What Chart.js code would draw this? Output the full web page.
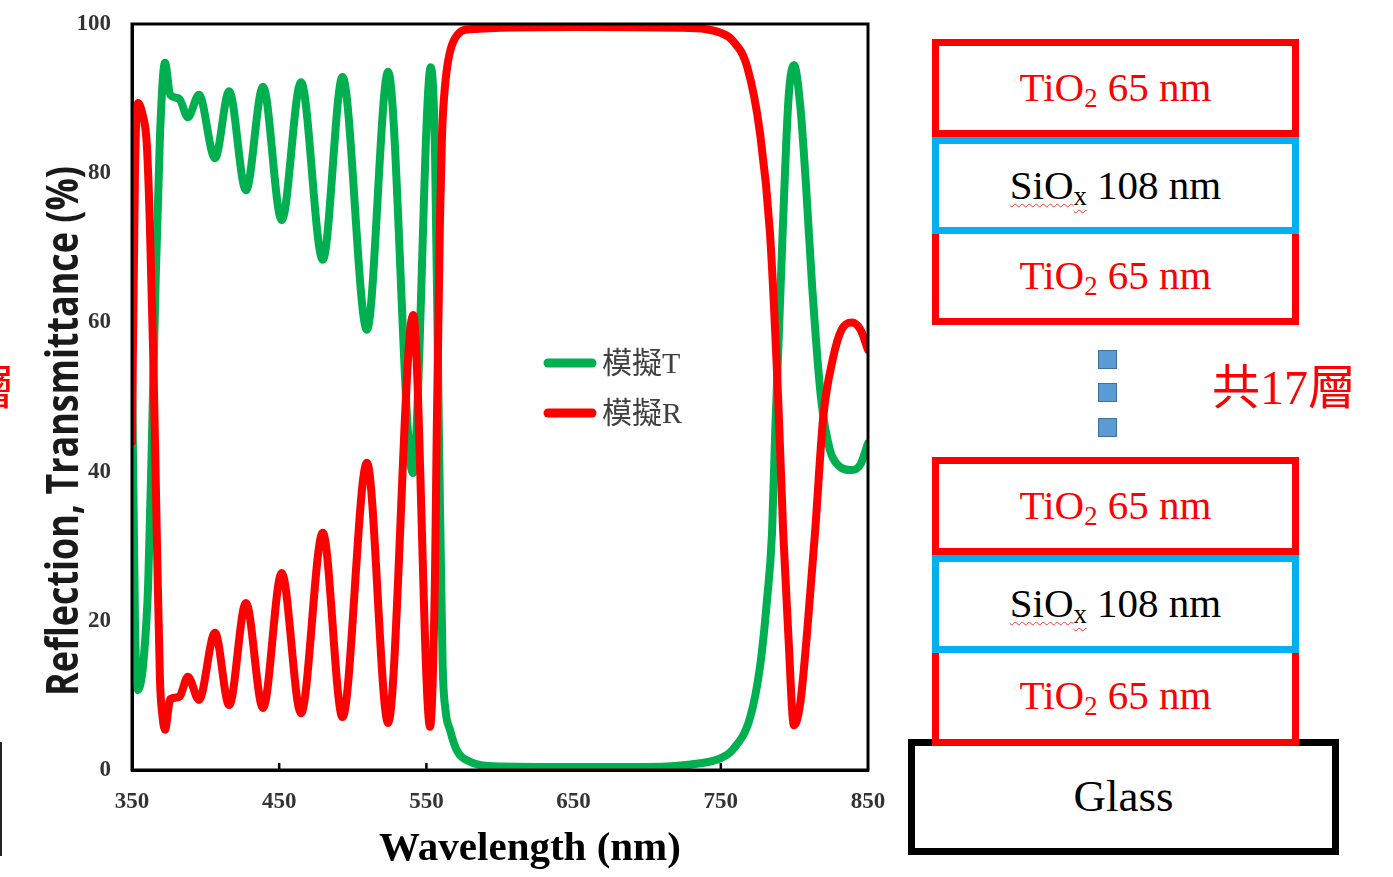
<!DOCTYPE html>
<html>
<head>
<meta charset="utf-8">
<script src="https://cdn.jsdelivr.net/npm/chart.js@4.4.0/dist/chart.umd.min.js"></script>
<style>
  html, body { margin: 0; padding: 0; background: #fff; }
  body { width: 1393px; height: 877px; position: relative; overflow: hidden; }
  #spectrum { position: absolute; left: 0; top: 0; }
  .layer {
    position: absolute; box-sizing: border-box; background: #fff;
    display: flex; align-items: center; justify-content: center;
    font-family: "Liberation Serif", "Times New Roman", serif; font-size: 41px;
    white-space: pre;
  }
  .layer > span { display: inline-block; line-height: 1.15; }
  .tio2 { border: 7px solid #ff0000; color: #ff0000; z-index: 2; }
  .siox { border: 7px solid #00b0f0; color: #000; z-index: 3; }
  .open-top { border-top: none; }
  .glass { border: 7px solid #000; color: #000; font-size: 45px; z-index: 1; }
  .layer sub { font-size: 0.65em; vertical-align: -0.22em; line-height: 0; }
  .sq { text-decoration: underline wavy #ff3b3b; text-decoration-thickness: 1px; text-underline-offset: 4px; }
  .dot { position: absolute; left: 1098px; width: 19px; height: 19px; box-sizing: border-box;
         background: #5b9bd5; border: 1px solid #41719c; }
  .count { position: absolute; top: 364px; color: #ff0000; font-size: 48px; line-height: 1;
           font-family: "Liberation Serif", "Noto Sans CJK TC", serif; white-space: nowrap; }
  .edge-line { position: absolute; left: 0; top: 742px; width: 2px; height: 114px; background: #222; }
</style>
</head>
<body>
<canvas id="spectrum" width="1393" height="877"></canvas>

<!-- layer stack: top group -->
<div class="layer tio2" style="left:932px;top:39px;width:367px;height:98px;"><span>TiO<sub>2</sub> 65 nm</span></div>
<div class="layer siox" style="left:932px;top:137px;width:367px;height:97px;"><span><span class="sq">SiO</span><sub class="sq">x</sub> 108 nm</span></div>
<div class="layer tio2 open-top" style="left:932px;top:234px;width:367px;height:91px;"><span>TiO<sub>2</sub> 65 nm</span></div>

<div class="dot" style="top:350px;"></div>
<div class="dot" style="top:383px;"></div>
<div class="dot" style="top:418px;"></div>

<div class="count" style="left:1212px;">共17層</div>
<div class="count" style="left:-33px;">層</div>
<div class="edge-line"></div>

<!-- layer stack: bottom group on the substrate -->
<div class="layer tio2" style="left:932px;top:457px;width:367px;height:98px;"><span>TiO<sub>2</sub> 65 nm</span></div>
<div class="layer siox" style="left:932px;top:555px;width:367px;height:98px;"><span><span class="sq">SiO</span><sub class="sq">x</sub> 108 nm</span></div>
<div class="layer tio2 open-top" style="left:932px;top:653px;width:367px;height:93px;"><span>TiO<sub>2</sub> 65 nm</span></div>
<div class="layer glass" style="left:908px;top:739px;width:431px;height:116px;"><span>Glass</span></div>

<script>
// Simulated transmittance (T) of the 17-layer TiO2 / SiOx stack, wavelength in nm, value in %
const wlT = [350, 352, 354, 358, 361, 363.5, 366, 369, 372.4, 376, 382, 388, 395.5, 406.4, 416, 427.4,
             439, 451.7, 464.8, 479.6, 493, 509.6, 524, 540.8, 553, 555.8, 558.6, 561, 563, 566, 570.5,
             579.6, 595, 650, 700, 736, 750, 758, 770, 776.6, 781.4, 784.8, 787, 792, 796, 799.7,
             804, 808, 812, 818, 824, 830, 839, 845, 850];
const tValues = [55, 20, 10.7, 15, 25, 44, 65, 85, 94.8, 90.5, 90, 87.5, 90.5, 82, 91, 77.7,
                 91.6, 73.7, 92.2, 68.4, 92.9, 59, 93.6, 39.8, 94.2, 83.5, 44, 14.3, 8, 5.4, 2.7,
                 1.1, 0.5, 0.4, 0.4, 0.9, 1.6, 2.7, 7.1, 13.8, 22.8, 31.8, 45.6, 72, 90, 94.5,
                 89, 78, 65, 50, 43, 40.8, 40.2, 41, 43.8];

// Simulated reflectance (R)
const wlR = [350, 352, 354, 357, 360, 362, 364.5, 367, 369, 370.5, 372.4, 376, 382, 388, 395.5, 406.4,
             416, 427.4, 439, 451.7, 464.8, 479.6, 493, 509.6, 524, 541, 552.5, 555.8, 557, 559.2, 560.6,
             562.6, 568, 579.6, 650, 720, 740, 750, 758, 768, 776.6, 783.4, 789, 792.4, 795.8, 799.7,
             804, 808.6, 814, 819.6, 826, 832, 839, 845, 850];
const rValues = [44, 80, 89.4, 88, 84, 74, 55, 30, 12, 7.6, 5.4, 9.5, 9.8, 12.5, 9.4, 18.4,
                 8.7, 22.4, 8.3, 26.4, 7.6, 31.8, 7.1, 41.2, 6.3, 61, 5.8, 25.5, 45, 73.7, 85,
                 91.6, 97.5, 99.3, 99.6, 99.5, 99.3, 98.8, 97.8, 94.2, 85.4, 72, 49.6, 31.8, 18.4, 6,
                 9, 18.4, 31.8, 47.3, 55, 59, 60, 59, 56.3];

const xTicks = [350, 450, 550, 650, 750, 850];
const yTicks = [0, 20, 40, 60, 80, 100];
const seriesLabels = ['模擬T', '模擬R'];
const seriesColors = ['#00b050', '#ff0000'];
const xTitle = 'Wavelength (nm)';
const yTitle = 'Reflection, Transmittance (%)';

const toPoints = (xs, ys) => xs.map((x, i) => ({ x, y: ys[i] }));

// inside tick marks (under the curves), frame and in-plot legend (over the curves)
const framePlugin = {
  id: 'frameAndLegend',
  beforeDatasetsDraw(chart) {
    const { ctx, chartArea: a, scales: { x } } = chart;
    ctx.save();
    ctx.strokeStyle = '#000';
    ctx.lineWidth = 2.5;
    xTicks.slice(1, -1).forEach(v => {
      const px = x.getPixelForValue(v);
      ctx.beginPath();
      ctx.moveTo(px, a.bottom);
      ctx.lineTo(px, a.bottom - 7);
      ctx.stroke();
    });
    ctx.restore();
  },
  afterDatasetsDraw(chart) {
    const { ctx, chartArea: a } = chart;
    ctx.save();
    ctx.strokeStyle = '#000';
    ctx.lineWidth = 3;
    ctx.strokeRect(a.left, a.top, a.right - a.left, a.bottom - a.top);

    ctx.lineCap = 'round';
    ctx.font = '30px "Liberation Serif", "Noto Sans CJK TC", serif';
    ctx.textBaseline = 'middle';
    ctx.textAlign = 'left';
    chart.data.datasets.forEach((ds, i) => {
      const y = a.top + 339 + i * 50;
      ctx.strokeStyle = ds.borderColor;
      ctx.lineWidth = 9;
      ctx.beginPath();
      ctx.moveTo(a.left + 416, y);
      ctx.lineTo(a.left + 460, y);
      ctx.stroke();
      ctx.fillStyle = '#404040';
      ctx.fillText(ds.label, a.left + 470, y + 2);
    });
    ctx.restore();
  },
  afterDraw(chart) {
    const { ctx, chartArea: a } = chart;
    ctx.save();
    // horizontal axis title
    ctx.fillStyle = '#000';
    ctx.font = 'bold 41px "Liberation Serif", "Times New Roman", serif';
    ctx.textAlign = 'center';
    ctx.textBaseline = 'alphabetic';
    ctx.fillText(xTitle, (a.left + a.right) / 2 + 30, 860);
    // vertical axis title
    ctx.font = 'bold 36px "Open Sans", sans-serif';
    const w = ctx.measureText(yTitle).width;
    ctx.translate(78, (a.top + a.bottom) / 2 + 34);
    ctx.rotate(-Math.PI / 2);
    ctx.scale(530 / w, 1.25);
    ctx.fillStyle = '#1a1a1a';
    ctx.fillText(yTitle, 0, 0);
    ctx.restore();
  }
};

const tickFont = { family: '"Liberation Serif", "Times New Roman", serif', weight: 'bold', size: 23 };

new Chart(document.getElementById('spectrum'), {
  type: 'line',
  data: {
    datasets: [
      { label: seriesLabels[0], data: toPoints(wlT, tValues), borderColor: seriesColors[0], order: 1 },
      { label: seriesLabels[1], data: toPoints(wlR, rValues), borderColor: seriesColors[1], order: 0 }
    ]
  },
  options: {
    responsive: false,
    animation: false,
    devicePixelRatio: 1,
    layout: { padding: { left: 0, top: 24, right: 525, bottom: 0 } },
    elements: {
      line: { borderWidth: 8, cubicInterpolationMode: 'monotone', borderCapStyle: 'round', borderJoinStyle: 'round', fill: false },
      point: { radius: 0, hoverRadius: 0 }
    },
    datasets: { line: { clip: { left: 0, right: 0, top: 4, bottom: 4 } } },
    plugins: { legend: { display: false }, tooltip: { enabled: false } },
    scales: {
      x: {
        type: 'linear', min: 350, max: 850,
        afterBuildTicks: s => { s.ticks = xTicks.map(v => ({ value: v })); },
        afterFit: s => { s.height = 107; s.paddingLeft = 0; s.paddingRight = 0; },
        ticks: { font: tickFont, color: '#333', padding: 18, maxRotation: 0, autoSkip: false },
        grid: { display: false, drawTicks: false },
        border: { display: true, color: '#000', width: 3 }
      },
      y: {
        type: 'linear', min: 0, max: 100,
        afterBuildTicks: s => { s.ticks = yTicks.map(v => ({ value: v })); },
        afterFit: s => { s.width = 132; s.paddingTop = 0; s.paddingBottom = 0; },
        ticks: { font: tickFont, color: '#333', padding: 21, autoSkip: false },
        grid: { display: false, drawTicks: false },
        border: { display: true, color: '#000', width: 3 }
      }
    }
  },
  plugins: [framePlugin]
});
</script>
</body>
</html>
